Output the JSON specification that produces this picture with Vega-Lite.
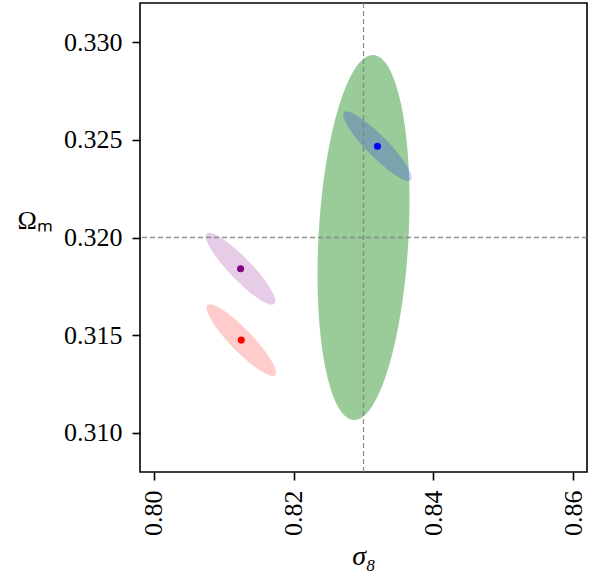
{
  "$schema": "https://vega.github.io/schema/vega-lite/v6.json",
  "width": 447,
  "height": 469,
  "autosize": {"type": "none"},
  "padding": {"left": 140, "top": 3, "right": 14, "bottom": 104},
  "background": "white",
  "config": {
    "view": {"stroke": "black", "strokeWidth": 1.6},
    "axis": {
      "grid": false,
      "domain": false,
      "labelFont": "Liberation Serif",
      "labelFontSize": 26,
      "labelColor": "black",
      "tickColor": "black",
      "tickWidth": 1.6,
      "tickSize": 8,
      "labelPadding": 10,
      "titleFont": "Liberation Serif",
      "titleColor": "black",
      "titleFontWeight": "normal"
    }
  },
  "data": {
    "values": [
      {"model": "fiducial", "sigma8": 0.83, "Om": 0.32},
      {"model": "A", "sigma8": 0.832, "Om": 0.32467},
      {"model": "B", "sigma8": 0.8124, "Om": 0.3184},
      {"model": "C", "sigma8": 0.8125, "Om": 0.31475}
    ]
  },
  "encoding": {
    "x": {
      "field": "sigma8", "type": "quantitative",
      "scale": {"domain": [0.798, 0.862], "nice": false, "zero": false},
      "axis": {
        "values": [0.80, 0.82, 0.84, 0.86], "format": ".2f", "labelAngle": -90,
        "title": "σ₈", "titleFontSize": 28, "titleFontStyle": "italic",
        "titleBaseline": "alphabetic", "titleY": 92
      }
    },
    "y": {
      "field": "Om", "type": "quantitative",
      "scale": {"domain": [0.308, 0.332], "nice": false, "zero": false},
      "axis": {
        "values": [0.31, 0.315, 0.32, 0.325, 0.33], "format": ".3f",
        "title": "Ωₘ", "titleFontSize": 26, "titleAngle": 0, "titleAlign": "left",
        "titleBaseline": "alphabetic", "titleX": -123, "titleY": 225
      }
    }
  },
  "layer": [
    {
      "transform": [{"filter": "datum.model === 'fiducial'"}],
      "mark": {
        "type": "point", "filled": true, "fill": "green", "opacity": 0.4, "strokeWidth": 0,
        "size": 133663, "angle": 3.1,
        "shape": "M 0 -1 C 0.1359 -1 0.246 -0.5523 0.246 0 C 0.246 0.5523 0.1359 1 0 1 C -0.1359 1 -0.246 0.5523 -0.246 0 C -0.246 -0.5523 -0.1359 -1 0 -1 Z"
      }
    },
    {
      "transform": [{"filter": "datum.model === 'A'"}],
      "mark": {
        "type": "point", "filled": true, "fill": "blue", "opacity": 0.2, "strokeWidth": 0,
        "size": 9139, "angle": 45.5,
        "shape": "M 1 0 C 1 0.1215 0.5523 0.22 0 0.22 C -0.5523 0.22 -1 0.1215 -1 0 C -1 -0.1215 -0.5523 -0.22 0 -0.22 C 0.5523 -0.22 1 -0.1215 1 0 Z"
      }
    },
    {
      "transform": [{"filter": "datum.model === 'B'"}],
      "mark": {
        "type": "point", "filled": true, "fill": "purple", "opacity": 0.2, "strokeWidth": 0,
        "size": 9526, "angle": 46,
        "shape": "M 1 0 C 1 0.1243 0.5523 0.225 0 0.225 C -0.5523 0.225 -1 0.1243 -1 0 C -1 -0.1243 -0.5523 -0.225 0 -0.225 C 0.5523 -0.225 1 -0.1243 1 0 Z"
      }
    },
    {
      "transform": [{"filter": "datum.model === 'C'"}],
      "mark": {
        "type": "point", "filled": true, "fill": "red", "opacity": 0.2, "strokeWidth": 0,
        "size": 9526, "angle": 46,
        "shape": "M 1 0 C 1 0.1243 0.5523 0.225 0 0.225 C -0.5523 0.225 -1 0.1243 -1 0 C -1 -0.1243 -0.5523 -0.225 0 -0.225 C 0.5523 -0.225 1 -0.1243 1 0 Z"
      }
    },
    {
      "transform": [{"filter": "datum.model === 'fiducial'"}],
      "mark": {"type": "rule", "color": "#808080", "strokeWidth": 1.3, "strokeDash": [5, 3], "opacity": 0.85},
      "encoding": {"y": null}
    },
    {
      "transform": [{"filter": "datum.model === 'fiducial'"}],
      "mark": {"type": "rule", "color": "#808080", "strokeWidth": 1.3, "strokeDash": [5, 3], "opacity": 0.85},
      "encoding": {"x": null}
    },
    {
      "transform": [{"filter": "datum.model !== 'fiducial'"}],
      "mark": {"type": "circle", "size": 50, "opacity": 1},
      "encoding": {
        "color": {
          "field": "model", "type": "nominal",
          "scale": {"domain": ["A", "B", "C"], "range": ["blue", "purple", "red"]},
          "legend": null
        }
      }
    }
  ]
}
